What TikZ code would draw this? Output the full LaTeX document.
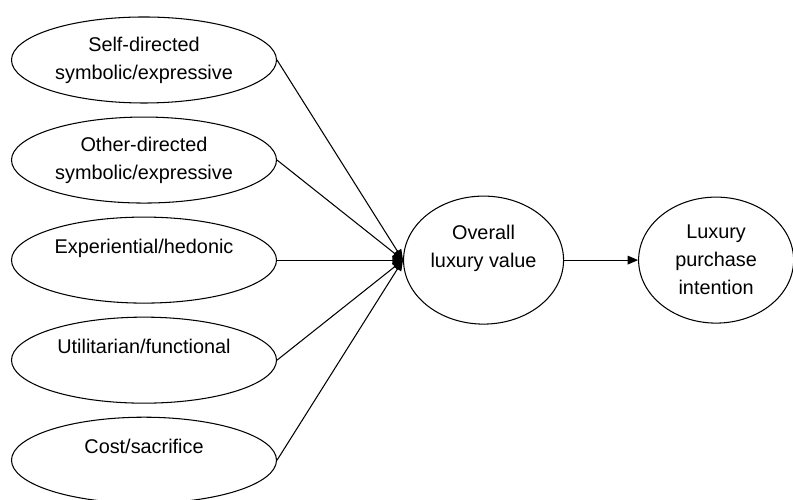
\documentclass[tikz,border=0pt]{standalone}
\usepackage{fontspec}
\setmainfont{Liberation Sans}
\usetikzlibrary{shapes.geometric, arrows.meta, positioning}

\begin{document}
\begin{tikzpicture}[
        node distance=0.26cm,
        valuebox/.style={ellipse, draw, line width=0.6pt, inner sep=1pt,
                    minimum width=5.3cm, minimum height=1.72cm,
                    align=center, font=\fontsize{11.3}{16}\selectfont},
        outcome/.style={valuebox, minimum width=3.2cm, minimum height=2.56cm},
        arrow/.style={-{Triangle[length=6pt, width=5pt]}, line width=0.6pt}
      ]
        \useasboundingbox (0,0) rectangle (15.86,10);
        \node[valuebox] (self) at (2.88,8.8) {Self-directed\\symbolic/expressive};
        \node[valuebox, below=of self]  (other) {Other-directed\\symbolic/expressive};
        \node[valuebox, below=of other] (exp)   {Experiential/hedonic\\~};
        \node[valuebox, below=of exp]   (util)  {Utilitarian/functional\\~};
        \node[valuebox, below=of util]  (cost)  {Cost/sacrifice\\~};
        \node[outcome, right=2.52cm of exp]   (overall)  {Overall\\luxury value\\~};
        \node[outcome, right=1.48cm of overall, minimum width=3.1cm, minimum height=2.52cm]
              (purchase) {Luxury\\purchase\\intention};
        \draw[arrow] (self.east)  -- (overall.west);
        \draw[arrow] (other.east) -- (overall.west);
        \draw[arrow] (exp.east)   -- (overall.west);
        \draw[arrow] (util.east)  -- (overall.west);
        \draw[arrow] (cost.east)  -- (overall.west);
        \draw[arrow] (overall) -- (purchase);
      \end{tikzpicture}
\end{document}
